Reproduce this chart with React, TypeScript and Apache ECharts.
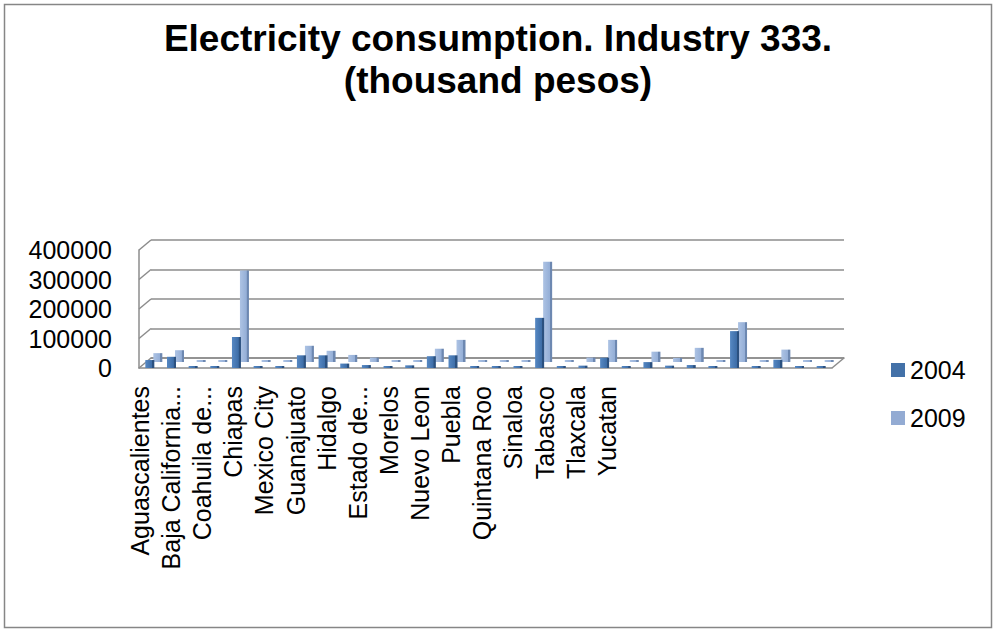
import React, { useEffect, useRef } from "react";
import * as echarts from "echarts";

const states = [
  "Aguascalientes", "Baja California", "Baja California Sur", "Campeche",
  "Coahuila de Zaragoza", "Colima", "Chiapas", "Chihuahua",
  "Mexico City", "Durango", "Guanajuato", "Guerrero",
  "Hidalgo", "Jalisco", "Estado de Mexico", "Michoacan",
  "Morelos", "Nayarit", "Nuevo Leon", "Oaxaca",
  "Puebla", "Queretaro", "Quintana Roo", "San Luis Potosi",
  "Sinaloa", "Sonora", "Tabasco", "Tamaulipas",
  "Tlaxcala", "Veracruz", "Yucatan", "Zacatecas",
];

const tickLabels = [
  "Aguascalientes", "Baja California...", "Coahuila de...", "Chiapas",
  "Mexico City", "Guanajuato", "Hidalgo", "Estado de...",
  "Morelos", "Nuevo Leon", "Puebla", "Quintana Roo",
  "Sinaloa", "Tabasco", "Tlaxcala", "Yucatan",
];

const values2004 = [
  27000, 38000, 2000, 3000, 105000, 3000, 2000, 43000,
  43000, 15000, 10000, 3000, 9000, 40000, 43000, 4000,
  2000, 2000, 170000, 2000, 8000, 35000, 2000, 20000,
  8000, 10000, 3000, 125000, 2000, 28000, 5000, 3000,
];

const values2009 = [
  30000, 40000, 2000, 3000, 310000, 3000, 2000, 55000,
  38000, 24000, 15000, 3000, 5000, 45000, 75000, 3000,
  2000, 2000, 340000, 2000, 15000, 75000, 2000, 35000,
  14000, 48000, 3000, 135000, 2000, 42000, 2000, 2000,
];

const yMin = 0;
const yMax = 400000;
const yStep = 100000;

const FONT = "Liberation Sans, Arial, sans-serif";

export default function App() {
  const ref = useRef<HTMLDivElement>(null);

  useEffect(() => {
    if (!ref.current) return;
    const chart = echarts.init(ref.current, null, { renderer: "svg" });

    const dark = new echarts.graphic.LinearGradient(0, 0, 1, 0, [
      { offset: 0, color: "#5688c3" },
      { offset: 0.72, color: "#3e6ea8" },
      { offset: 0.76, color: "#2b5180" },
      { offset: 1, color: "#2b5180" },
    ]);
    const light = new echarts.graphic.LinearGradient(0, 0, 1, 0, [
      { offset: 0, color: "#adc3e4" },
      { offset: 0.72, color: "#95afd7" },
      { offset: 0.76, color: "#6d88b1" },
      { offset: 1, color: "#6d88b1" },
    ]);

    const gridLine = "#8c8c8c";
    const hiddenAxis = {
      axisLine: { show: false },
      axisTick: { show: false },
      axisLabel: { show: false },
      splitLine: { show: false },
    };

    const wallLines: any[] = [];
    for (let k = 0; k <= 4; k++) {
      wallLines.push({
        type: "line",
        shape: { x1: 139, y1: 250 + k * 29.5, x2: 151, y2: 240 + k * 29.5 },
        style: { stroke: gridLine, lineWidth: 1.5 },
        z: 1,
      });
    }

    chart.setOption({
      animation: false,
      backgroundColor: "#ffffff",
      title: {
        text: "Electricity consumption. Industry 333.\n(thousand pesos)",
        left: "center",
        top: 12,
        textStyle: {
          fontFamily: FONT,
          fontWeight: "bold",
          fontSize: 37,
          lineHeight: 42,
          color: "#000",
        },
      },
      legend: {
        orient: "vertical",
        left: 886,
        top: 350,
        itemWidth: 14,
        itemHeight: 14,
        itemGap: 18,
        icon: "rect",
        textStyle: { fontFamily: FONT, fontSize: 25, lineHeight: 30, color: "#000" },
        data: [
          { name: "2004", itemStyle: { color: "#4371a8" } },
          { name: "2009", itemStyle: { color: "#93abd3" } },
        ],
      },
      grid: [
        { left: 139, top: 250, width: 693, height: 118 },
        { left: 147, top: 244, width: 693, height: 118 },
        { left: 151, top: 240, width: 693, height: 118 },
        { left: 124.4, top: 250, width: 498, height: 118 },
      ],
      xAxis: [
        {
          type: "category",
          gridIndex: 0,
          data: states,
          axisLine: { show: true, lineStyle: { color: gridLine, width: 1.5 } },
          axisTick: { show: false },
          axisLabel: { show: false },
        },
        { type: "category", gridIndex: 1, data: states, ...hiddenAxis },
        {
          type: "category",
          gridIndex: 2,
          data: states,
          axisLine: { show: true, lineStyle: { color: gridLine, width: 1.5 } },
          axisTick: { show: false },
          axisLabel: { show: false },
        },
        {
          type: "category",
          gridIndex: 3,
          data: tickLabels,
          axisLine: { show: false },
          axisTick: { show: false },
          axisLabel: {
            show: true,
            interval: 0,
            rotate: 90,
            margin: 18,
            fontFamily: FONT,
            fontSize: 25,
            color: "#000",
          },
        },
      ],
      yAxis: [
        {
          type: "value",
          gridIndex: 0,
          min: yMin,
          max: yMax,
          interval: yStep,
          axisLine: { show: true, lineStyle: { color: gridLine, width: 1.5 } },
          axisTick: { show: false },
          splitLine: { show: false },
          axisLabel: {
            margin: 27,
            fontFamily: FONT,
            fontSize: 25,
            color: "#000",
            formatter: (v: number) => String(v),
          },
        },
        { type: "value", gridIndex: 1, min: yMin, max: yMax, interval: yStep, ...hiddenAxis },
        {
          type: "value",
          gridIndex: 2,
          min: yMin,
          max: yMax,
          interval: yStep,
          axisLine: { show: false },
          axisTick: { show: false },
          axisLabel: { show: false },
          splitLine: { show: true, lineStyle: { color: gridLine, width: 1.5 } },
        },
        { type: "value", gridIndex: 3, min: yMin, max: yMax, interval: yStep, ...hiddenAxis },
      ],
      series: [
        {
          name: "2004",
          type: "bar",
          xAxisIndex: 0,
          yAxisIndex: 0,
          data: values2004,
          barWidth: 9,
          barMinHeight: 2,
          itemStyle: { color: dark },
          z: 4,
        },
        {
          name: "2009",
          type: "bar",
          xAxisIndex: 1,
          yAxisIndex: 1,
          data: values2009,
          barWidth: 9,
          barMinHeight: 2,
          itemStyle: { color: light },
          z: 3,
        },
      ],
      graphic: [
        {
          type: "rect",
          shape: { x: 4.5, y: 4.5, width: 987, height: 623 },
          style: { fill: "none", stroke: "#868686", lineWidth: 1.5 },
          z: 0,
        },
        ...wallLines,
        {
          type: "line",
          shape: { x1: 832, y1: 368, x2: 844, y2: 358 },
          style: { stroke: gridLine, lineWidth: 1.5 },
          z: 1,
        },
      ],
    });

    return () => chart.dispose();
  }, []);

  return (
    <div
      ref={ref}
      style={{ position: "absolute", left: 0, top: 0, width: 996, height: 632 }}
    />
  );
}
